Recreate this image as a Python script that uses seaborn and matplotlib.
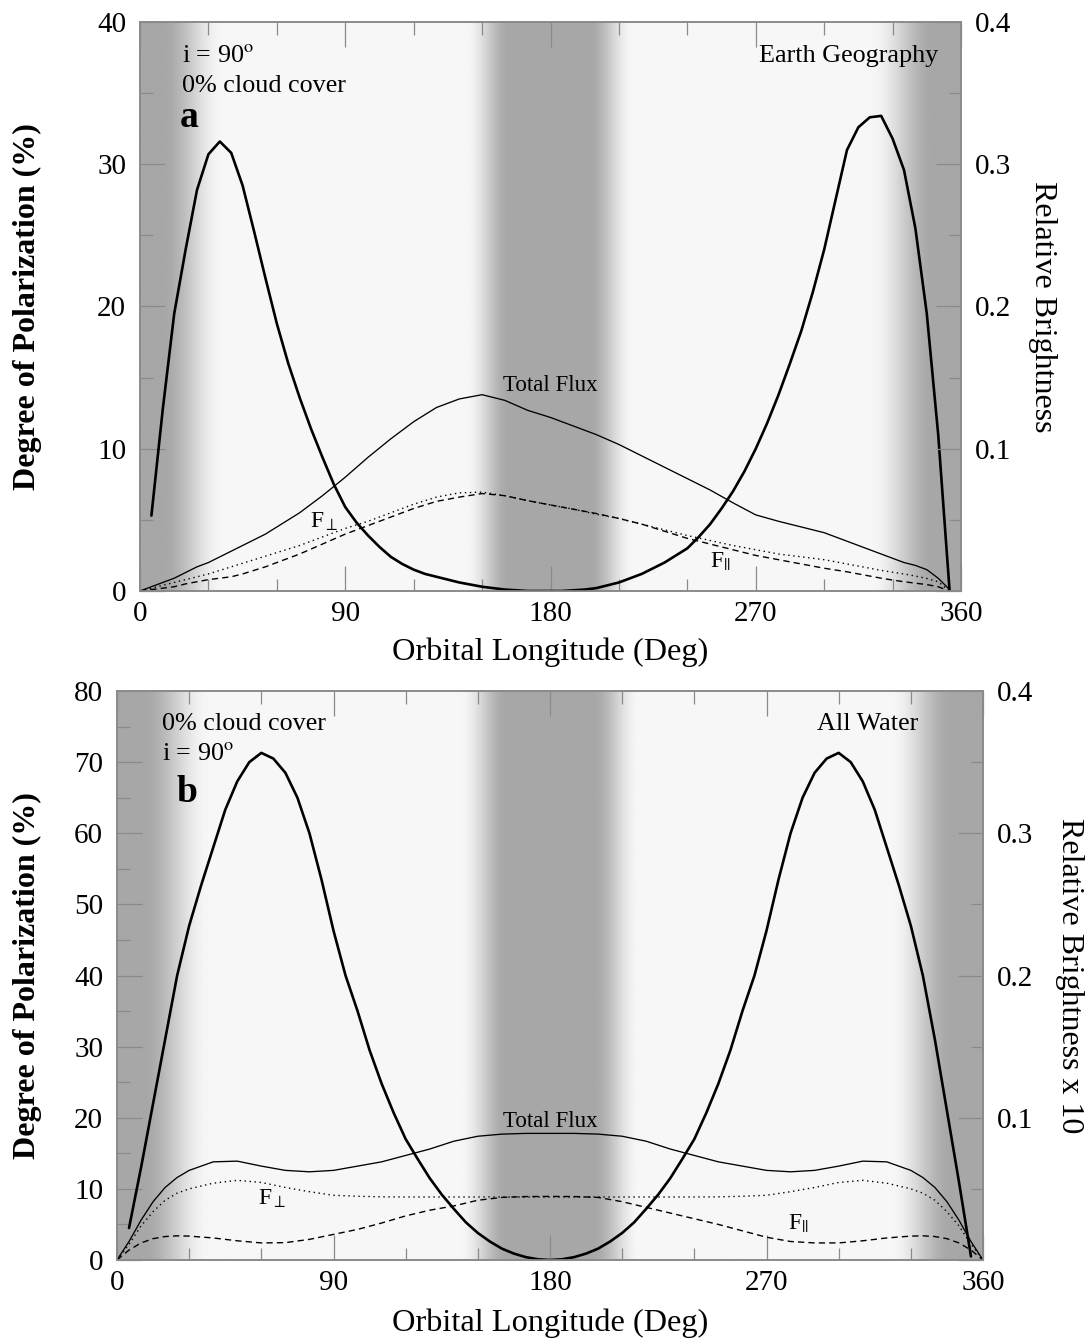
import numpy as np
import matplotlib
matplotlib.use("Agg")
import matplotlib.pyplot as plt
import seaborn as sns

# ---------------- Panel a : Earth geography ----------------
lon_a = [0, 5, 10, 15, 20, 25, 30, 35, 40, 45, 50, 55, 60, 70, 80, 90, 100, 110, 120, 130,
         140, 150, 160, 170, 180, 190, 200, 210, 220, 230, 240, 250, 260, 270, 280, 290,
         300, 310, 315, 320, 325, 330, 335, 340, 345, 350, 355]
total_a = [0, 0.003, 0.006, 0.009, 0.013, 0.017, 0.020, 0.024, 0.028, 0.032, 0.036, 0.040,
           0.045, 0.055, 0.067, 0.080, 0.094, 0.107, 0.119, 0.129, 0.135, 0.138, 0.134,
           0.127, 0.122, 0.116, 0.110, 0.103, 0.095, 0.087, 0.079, 0.071, 0.062, 0.0535,
           0.049, 0.045, 0.041, 0.035, 0.032, 0.029, 0.026, 0.023, 0.020, 0.018, 0.015,
           0.009, 0.001]
perp_a = [0, 0.002, 0.004, 0.006, 0.008, 0.010, 0.012, 0.0145, 0.017, 0.0195, 0.022, 0.0245,
          0.027, 0.032, 0.038, 0.044, 0.049, 0.055, 0.061, 0.066, 0.069, 0.0695, 0.067,
          0.0635, 0.0605, 0.0575, 0.054, 0.051, 0.047, 0.043, 0.039, 0.0355, 0.032, 0.029,
          0.026, 0.024, 0.022, 0.019, 0.0175, 0.016, 0.0145, 0.0132, 0.012, 0.0105, 0.0088,
          0.0065, 0.0]
par_a = [0, 0.001, 0.002, 0.003, 0.005, 0.0065, 0.008, 0.009, 0.010, 0.012, 0.0145, 0.017,
         0.020, 0.026, 0.033, 0.040, 0.046, 0.052, 0.058, 0.063, 0.066, 0.0685, 0.067,
         0.0635, 0.0605, 0.0575, 0.0545, 0.051, 0.047, 0.042, 0.037, 0.033, 0.029, 0.025,
         0.022, 0.019, 0.016, 0.0135, 0.012, 0.0105, 0.009, 0.0077, 0.0065, 0.0055, 0.0045,
         0.003, 0.0]
pol_lon = list(range(5, 360, 5))
pol_a = [5.3, 12.8, 19.5, 24.0, 28.2, 30.7, 31.6, 30.8, 28.5, 25.3, 22.0, 18.8, 16.0, 13.6,
         11.4, 9.4, 7.5, 5.9, 4.8, 3.9, 3.1, 2.4, 1.9, 1.5, 1.2, 1.0, 0.8, 0.6, 0.45, 0.3,
         0.2, 0.1, 0.05, 0.0, 0.0, 0.0, 0.0, 0.05, 0.1, 0.2, 0.4, 0.6, 0.9, 1.2, 1.6, 2.0,
         2.5, 3.0, 3.8, 4.7, 5.8, 7.0, 8.4, 10.0, 11.8, 13.8, 16.0, 18.3, 21.0, 24.0, 27.5,
         31.0, 32.6, 33.3, 33.4, 31.8, 29.6, 25.5, 19.5, 11.0, 0.0]

# ---------------- Panel b : all water ----------------
lon_b = [0, 5, 10, 15, 20, 25, 30, 40, 50, 60, 70, 80, 90, 100, 110, 120, 130, 140, 150,
         160, 170, 180, 190, 200, 210, 220, 230, 240, 250, 260, 270, 280, 290, 300, 310,
         320, 330, 335, 340, 345, 350, 355, 360]
total_b = [0, 0.013, 0.028, 0.041, 0.051, 0.058, 0.063, 0.069, 0.0695, 0.066, 0.063, 0.062,
           0.063, 0.066, 0.069, 0.0735, 0.078, 0.0835, 0.087, 0.0885, 0.089, 0.089, 0.089,
           0.0885, 0.087, 0.0835, 0.078, 0.0735, 0.069, 0.066, 0.063, 0.062, 0.063, 0.066,
           0.0695, 0.069, 0.063, 0.058, 0.051, 0.041, 0.028, 0.013, 0]
perp_b = [0, 0.011, 0.024, 0.034, 0.042, 0.047, 0.050, 0.054, 0.056, 0.0545, 0.051, 0.048,
          0.0455, 0.0448, 0.0444, 0.0443, 0.0443, 0.0443, 0.0443, 0.0443, 0.0443, 0.0443,
          0.0443, 0.0443, 0.0443, 0.0443, 0.0443, 0.0443, 0.0444, 0.0448, 0.0455, 0.048,
          0.051, 0.0545, 0.056, 0.054, 0.050, 0.047, 0.042, 0.034, 0.024, 0.011, 0]
par_b = [0, 0.007, 0.012, 0.015, 0.0165, 0.017, 0.0168, 0.0155, 0.0135, 0.012, 0.0122, 0.0145,
         0.018, 0.0215, 0.026, 0.031, 0.035, 0.038, 0.042, 0.044, 0.0446, 0.0447, 0.0446,
         0.044, 0.041, 0.037, 0.033, 0.029, 0.025, 0.0205, 0.016, 0.013, 0.012, 0.012,
         0.0135, 0.0155, 0.0168, 0.017, 0.0165, 0.015, 0.012, 0.007, 0]
pol_b = [4.5, 13.0, 22.0, 31.0, 40.0, 47.0, 52.7, 58.0, 63.3, 67.3, 70.0, 71.3, 70.5, 68.5,
         65.0, 60.0, 53.5, 46.3, 40.0, 35.0, 29.5, 24.8, 20.7, 17.0, 14.2, 11.5, 9.2, 7.2,
         5.3, 3.8, 2.6, 1.6, 0.9, 0.4, 0.1, 0.0, 0.1, 0.4, 0.9, 1.6, 2.6, 3.8, 5.3, 7.2,
         9.2, 11.5, 14.2, 17.0, 20.7, 24.8, 29.5, 35.0, 40.0, 46.3, 53.5, 60.0, 65.0, 68.5,
         70.5, 71.3, 70.0, 67.3, 63.3, 58.0, 52.7, 47.0, 40.0, 31.0, 21.0, 11.0, 0.5]

# background shading (1 = dark, 0 = light)
shade_deg_a = [0, 10, 36, 143, 162, 197, 216, 321, 348, 360]
shade_deg_b = [0, 11, 38, 143, 162, 198, 217, 322, 347, 360]
shade_lvl = [1, 1, 0, 0, 1, 1, 0, 0, 1, 1]

xticks_major = [0, 90, 180, 270, 360]
right_ticks = [0, 0.1, 0.2, 0.3, 0.4]
right_ticklabels = ["", "0.1", "0.2", "0.3", "0.4"]

sns.set_theme(style="ticks")
plt.rcParams["font.family"] = ["Liberation Serif", "DejaVu Serif"]
plt.rcParams["mathtext.fontset"] = "stix"
plt.rcParams["text.color"] = "black"
plt.rcParams["axes.labelcolor"] = "black"

W, H = 1091, 1340
fig = plt.figure(figsize=(W / 100, H / 100), dpi=100)

SPINE = "#8a8a8a"
DARK, LIGHT = 0.655, 0.965
ANN = 18.8


def shade(ax, bp, ymax):
    xs = np.linspace(0, 360, 1441)
    t = np.interp(xs, bp, shade_lvl)
    s = t * t * (3 - 2 * t)
    g = LIGHT - (LIGHT - DARK) * s
    ax.imshow(np.vstack([g, g]), extent=[0, 360, 0, ymax], aspect="auto", cmap="gray",
              vmin=0, vmax=1, interpolation="bilinear", origin="lower", zorder=0)


def panel(rect, ymax, yminor, bp, lon, tot, perp, par, pol, right_label,
          left_coord, right_coord, xpad):
    ax = fig.add_axes(rect)
    shade(ax, bp, ymax)
    sns.lineplot(x=pol_lon, y=pol, ax=ax, color="black", linewidth=1.9,
                 estimator=None, sort=False, zorder=3)
    ax.set_xlim(0, 360)
    ax.set_ylim(0, ymax)
    ax.set_xticks(xticks_major)
    ax.set_xticks(np.arange(0, 361, 30), minor=True)
    ax.set_yticks(np.arange(0, ymax + 1, 10))
    ax.set_yticks(np.arange(0, ymax + 1, yminor), minor=True)
    ax.tick_params(which="both", direction="in", top=True, right=False,
                   color=SPINE, width=0.9, labelsize=21, labelcolor="black")
    ax.tick_params(which="major", length=18)
    ax.tick_params(which="minor", length=9)
    ax.tick_params(axis="x", pad=7)
    ax.tick_params(axis="y", pad=10)
    ax.set_xlabel("Orbital Longitude (Deg)", fontsize=23.3, labelpad=xpad)
    ax.set_ylabel("Degree of Polarization (%)", fontsize=23, fontweight="bold")
    ax.yaxis.set_label_coords(left_coord, 0.5)

    ax2 = ax.twinx()
    sns.lineplot(x=lon, y=tot, ax=ax2, color="black", linewidth=0.95,
                 estimator=None, sort=False)
    sns.lineplot(x=lon, y=perp, ax=ax2, color="black", linewidth=1.0,
                 linestyle=(0, (1, 2.6)), estimator=None, sort=False)
    sns.lineplot(x=lon, y=par, ax=ax2, color="black", linewidth=1.0,
                 linestyle=(0, (4.5, 3)), estimator=None, sort=False)
    ax2.set_xlim(0, 360)
    ax2.set_ylim(0, 0.4)
    ax2.set_yticks(right_ticks)
    ax2.set_yticklabels(right_ticklabels)
    ax2.set_yticks(np.arange(0, 0.401, 0.05), minor=True)
    ax2.tick_params(which="both", direction="in", right=True, left=False,
                    color=SPINE, width=0.9, labelsize=21, labelcolor="black", pad=10)
    ax2.tick_params(which="major", length=18)
    ax2.tick_params(which="minor", length=9)
    ax2.set_ylabel(right_label, rotation=270, va="bottom", fontsize=23)
    ax2.yaxis.set_label_coords(right_coord, 0.5)
    for a in (ax, ax2):
        for sp in a.spines.values():
            sp.set_color(SPINE)
            sp.set_linewidth(1.2)
            sp.set_visible(True)
    return ax, ax2


# ---- panel a ----
ax_a, ax2_a = panel([140 / W, 1 - 591 / H, 821 / W, 569 / H], 40, 5, shade_deg_a,
                    lon_a, total_a, perp_a, par_a, pol_a, "Relative Brightness",
                    -0.119, 1.082, 8)
ax_a.text(0.051, 0.930, r"i = 90$^{\mathrm{o}}$", transform=ax_a.transAxes,
          fontsize=ANN, va="baseline", zorder=5)
ax_a.text(0.051, 0.877, "0% cloud cover", transform=ax_a.transAxes,
          fontsize=ANN, va="baseline", zorder=5)
ax_a.text(0.049, 0.815, "a", transform=ax_a.transAxes, fontsize=27,
          fontweight="bold", va="baseline", zorder=5)
ax_a.text(0.972, 0.930, "Earth Geography", transform=ax_a.transAxes,
          fontsize=ANN, ha="right", va="baseline", zorder=5)
ax2_a.text(180, 0.1406, "Total Flux", ha="center", va="baseline", fontsize=16.5)
ax2_a.text(74.6, 0.0443, r"F$_{\perp}$", va="baseline", fontsize=17)
ax2_a.text(250, 0.0162, r"F$_{||}$", va="baseline", fontsize=17)

# ---- panel b ----
ax_b, ax2_b = panel([117 / W, 1 - 1260 / H, 866 / W, 569 / H], 80, 5, shade_deg_b,
                    lon_b, total_b, perp_b, par_b, pol_b, "Relative Brightness x 10",
                    -0.0866, 1.083, 9)
ax_b.text(0.052, 0.931, "0% cloud cover", transform=ax_b.transAxes,
          fontsize=ANN, va="baseline", zorder=5)
ax_b.text(0.052, 0.879, r"i = 90$^{\mathrm{o}}$", transform=ax_b.transAxes,
          fontsize=ANN, va="baseline", zorder=5)
ax_b.text(0.069, 0.805, "b", transform=ax_b.transAxes, fontsize=27,
          fontweight="bold", va="baseline", zorder=5)
ax_b.text(0.925, 0.931, "All Water", transform=ax_b.transAxes,
          fontsize=ANN, ha="right", va="baseline", zorder=5)
ax2_b.text(180, 0.0935, "Total Flux", ha="center", va="baseline", fontsize=16.5)
ax2_b.text(58.5, 0.0387, r"F$_{\perp}$", va="baseline", fontsize=17)
ax2_b.text(279, 0.021, r"F$_{||}$", va="baseline", fontsize=17)

fig.savefig("out.png", dpi=100, facecolor="white")
